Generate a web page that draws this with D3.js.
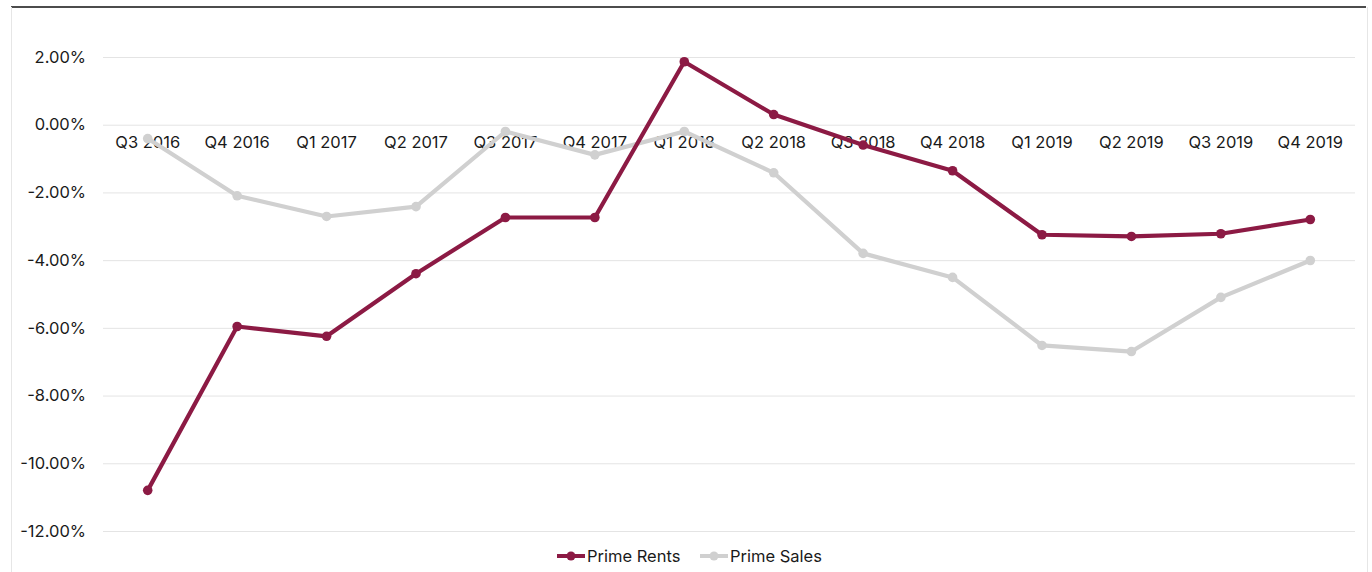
<!DOCTYPE html>
<html>
<head>
<meta charset="utf-8">
<script src="https://cdn.jsdelivr.net/npm/d3@7"></script>
<style>
  html, body { margin: 0; padding: 0; background: #fff; }
  svg { display: block; font-family: Inter, "Liberation Sans", Arial, sans-serif; }
</style>
</head>
<body>
<svg id="chart" width="1372" height="572"></svg>
<script>
// Quarterly change in prime residential values (%)
const quarters = ["Q3 2016","Q4 2016","Q1 2017","Q2 2017","Q3 2017","Q4 2017","Q1 2018",
                  "Q2 2018","Q3 2018","Q4 2018","Q1 2019","Q2 2019","Q3 2019","Q4 2019"];
const primeRents = [-10.8, -5.96, -6.25, -4.4, -2.74, -2.74, 1.86, 0.3, -0.6, -1.36, -3.25, -3.3, -3.22, -2.8];
const primeSales = [-0.41, -2.1, -2.71, -2.42, -0.2, -0.89, -0.2, -1.42, -3.8, -4.51, -6.52, -6.7, -5.1, -4.01];
const yTicks = [2, 0, -2, -4, -6, -8, -10, -12];

const seriesList = [
  { name: "Prime Rents", values: primeRents, color: "#8c1a44" },
  { name: "Prime Sales", values: primeSales, color: "#d0d0d0" }
];

const FONT = "Inter, 'Liberation Sans', Arial, sans-serif";
const svg = d3.select("#chart");
const plot = { left: 103, right: 1355, top: 57, bottom: 531 };

const x = d3.scaleBand().domain(quarters).range([plot.left, plot.right]);
const y = d3.scaleLinear().domain([-12, 2]).range([plot.bottom, plot.top]);
const cx = q => x(q) + x.bandwidth() / 2;

// frame
svg.append("line").attr("x1", 11).attr("x2", 1366).attr("y1", 7).attr("y2", 7)
  .attr("stroke", "#111").attr("stroke-width", 1.5);
svg.append("line").attr("x1", 11.5).attr("x2", 11.5).attr("y1", 7).attr("y2", 572)
  .attr("stroke", "#e6e6e6").attr("stroke-width", 1);
svg.append("line").attr("x1", 1367.5).attr("x2", 1367.5).attr("y1", 7).attr("y2", 572)
  .attr("stroke", "#e6e6e6").attr("stroke-width", 1);

// gridlines + y labels
const yAxis = d3.axisLeft(y).tickValues(yTicks)
  .tickSize(-(plot.right - plot.left)).tickPadding(17)
  .tickFormat(d => d.toFixed(2) + "%");
const gy = svg.append("g").attr("transform", `translate(${plot.left},0)`).call(yAxis);
gy.select(".domain").remove();
gy.selectAll(".tick line").attr("stroke", "#e4e4e4").attr("stroke-width", 1);
gy.selectAll(".tick text").attr("fill", "#1a1a1a").style("font-size", "16.5px")
  .style("font-family", FONT);

// category axis along the zero line
const xAxis = d3.axisBottom(x).tickSize(0).tickPadding(12);
const gx = svg.append("g").attr("transform", `translate(0,${y(0)})`).call(xAxis);
gx.select(".domain").remove();
gx.selectAll(".tick text").attr("fill", "#1a1a1a").style("font-size", "16.5px")
  .style("font-family", FONT);

// series (sales drawn beneath rents)
const line = d3.line().x((d, i) => cx(quarters[i])).y(d => y(d));
[seriesList[1], seriesList[0]].forEach(s => {
  svg.append("path").datum(s.values).attr("d", line)
    .attr("fill", "none").attr("stroke", s.color).attr("stroke-width", 4.2)
    .attr("stroke-linejoin", "round");
  svg.append("g").selectAll("circle").data(s.values).join("circle")
    .attr("cx", (d, i) => cx(quarters[i])).attr("cy", d => y(d)).attr("r", 4.8)
    .attr("fill", s.color);
});

// legend
const legendItems = [
  { s: seriesList[0], x: 557 },
  { s: seriesList[1], x: 700 }
];
const ly = 556;
legendItems.forEach(({ s, x: lx }) => {
  const g = svg.append("g").attr("transform", `translate(${lx},${ly})`);
  g.append("line").attr("x1", 0).attr("x2", 28).attr("y1", 0).attr("y2", 0)
    .attr("stroke", s.color).attr("stroke-width", 4);
  g.append("circle").attr("cx", 14).attr("cy", 0).attr("r", 4.5).attr("fill", s.color);
  g.append("text").attr("x", 30).attr("y", 0).attr("dy", "0.35em")
    .attr("fill", "#1a1a1a").style("font-size", "16.5px").style("font-family", FONT)
    .text(s.name);
});
</script>
</body>
</html>
